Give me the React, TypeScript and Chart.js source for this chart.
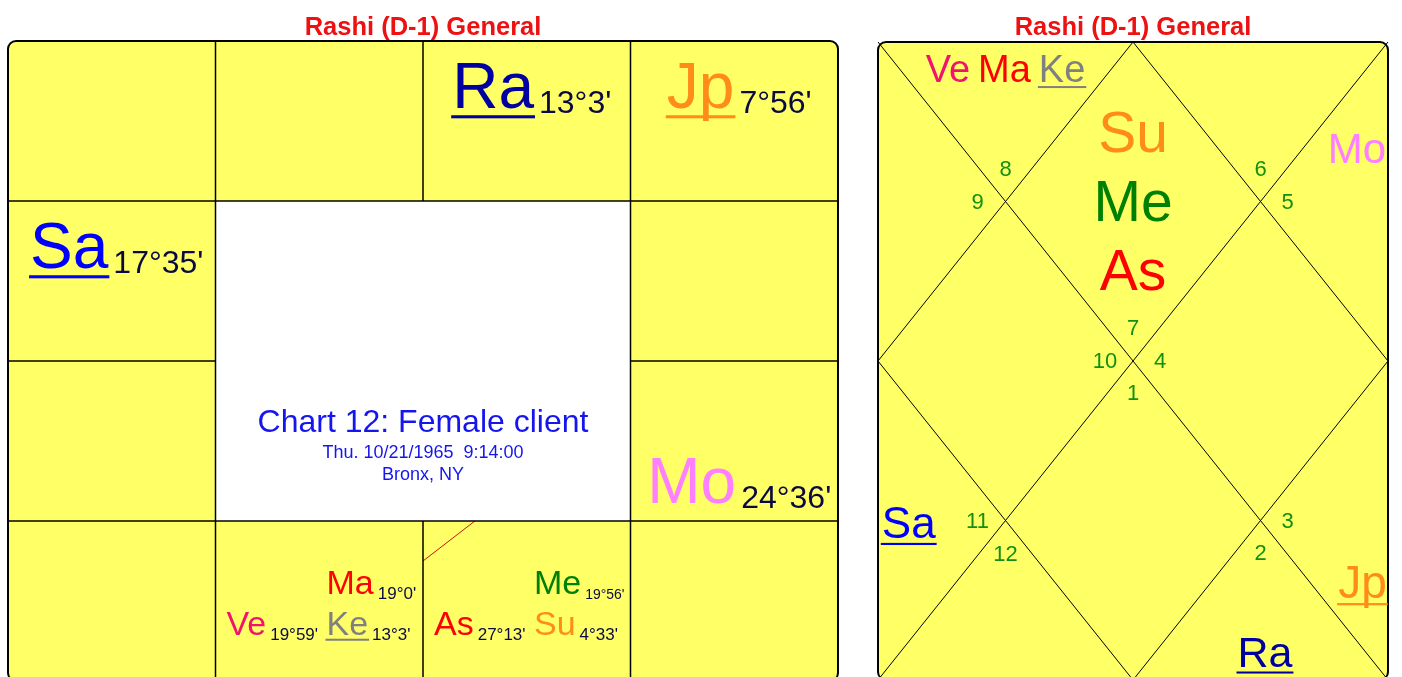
import React, { useEffect, useRef } from "react";
import { Chart, registerables } from "chart.js";

Chart.register(...registerables);

// ---------- data ----------
const TITLE = "Rashi (D-1) General";
const CENTER_TITLE = "Chart 12: Female client";
const CENTER_DATE = "Thu. 10/21/1965  9:14:00";
const CENTER_PLACE = "Bronx, NY";

const PLANETS = ["Su", "Me", "As", "Ve", "Ma", "Ke", "Mo", "Sa", "Jp", "Ra"];
const PLANET_SIGNS = [7, 7, 7, 8, 8, 8, 5, 11, 3, 2];
const PLANET_DEGREES = ["4°33'", "19°56'", "27°13'", "19°59'", "19°0'", "13°3'", "24°36'", "17°35'", "7°56'", "13°3'"];
const PLANET_RETRO = [false, false, false, false, false, true, false, true, true, true];
const PLANET_COLORS = ["#ff8c1a", "#008000", "#ff0000", "#f0146e", "#ff0000", "#808080", "#ff80ff", "#0000ff", "#ff8c1a", "#0000a0"];
const ASC_SIGN = 7;
const SIGN_NUMBERS = [1, 2, 3, 4, 5, 6, 7, 8, 9, 10, 11, 12];

// ---------- styles / layout ----------
const FONT = '"Liberation Sans", Arial, Helvetica, sans-serif';
const YELLOW = "#ffff66";
const TITLE_COLOR = "#ee1111";
const CENTER_COLOR = "#1515ee";
const DEG_COLOR = "#0a0a40";
const NUM_COLOR = "#129012";
const GRID = 4;

// south chart: sign -> [col, row]
const SOUTH_CELLS: Record<number, [number, number]> = {
  12: [0, 0], 1: [1, 0], 2: [2, 0], 3: [3, 0], 4: [3, 1], 5: [3, 2],
  6: [3, 3], 7: [2, 3], 8: [1, 3], 9: [0, 3], 10: [0, 2], 11: [0, 1],
};
const SOUTH_SINGLE_BASELINE: Record<number, number> = { 5: 0.885 };
// slot for multi-planet cells: 0 = top row, 1 = bottom-left, 2 = bottom-right
const SOUTH_SLOTS = [2, 0, 1, 1, 0, 2, 0, 0, 0, 0];

// north chart: house number label anchor [crossX, crossY, dxPx, dyPx]
const NORTH_NUM_ANCHORS: [number, number, number, number][] = [
  [2, 2, 0, -33], [1, 1, 0, -33], [1, 1, -28, 0], [2, 2, -28, 0],
  [1, 3, -28, 0], [1, 3, 0, 33], [2, 2, 0, 32], [3, 3, 0, 32],
  [3, 3, 27, 0], [2, 2, 27, 0], [3, 1, 27, 0], [3, 1, 0, -33],
];
type NorthLay = { x: number; y: number; align: "left" | "center" | "right"; size: number; dir: "v" | "h"; step?: number };
const NORTH_TEXT: NorthLay[] = [
  { x: 2, y: 0.69, align: "center", size: 57, dir: "v", step: 69 },
  { x: 1, y: 0.25, align: "center", size: 38, dir: "h" },
  { x: 0.05, y: 1.1, align: "left", size: 42, dir: "v" },
  { x: 1, y: 2.1, align: "center", size: 42, dir: "v" },
  { x: 0.03, y: 3.11, align: "left", size: 44, dir: "v" },
  { x: 1, y: 3.9, align: "center", size: 42, dir: "h" },
  { x: 2, y: 3.0, align: "center", size: 57, dir: "v", step: 69 },
  { x: 3.035, y: 3.917, align: "center", size: 43, dir: "h" },
  { x: 3.99, y: 3.486, align: "right", size: 46, dir: "v" },
  { x: 3, y: 2.1, align: "center", size: 42, dir: "v" },
  { x: 3.985, y: 0.759, align: "right", size: 42, dir: "v" },
  { x: 3, y: 0.25, align: "center", size: 38, dir: "h" },
];

function font(size: number, bold = false) {
  return `${bold ? "bold " : ""}${size}px ${FONT}`;
}

function planetsInSign(sign: number) {
  const out: number[] = [];
  PLANET_SIGNS.forEach((s, i) => { if (s === sign) out.push(i); });
  return out;
}

function lineDataset(points: { x: number; y: number }[], color: string, width: number) {
  return {
    data: points,
    showLine: true,
    borderColor: color,
    borderWidth: width,
    pointRadius: 0,
    fill: false,
    tension: 0,
    clip: false as any,
  };
}

function drawName(ctx: CanvasRenderingContext2D, i: number, x: number, baseline: number, size: number) {
  ctx.font = font(size);
  ctx.textAlign = "left";
  ctx.textBaseline = "alphabetic";
  const w = ctx.measureText(PLANETS[i]).width;
  ctx.fillStyle = PLANET_COLORS[i];
  ctx.fillText(PLANETS[i], x, baseline);
  if (PLANET_RETRO[i]) {
    ctx.fillRect(x - 1, baseline + size * 0.11, w + 2, Math.max(2, size * 0.048));
  }
  return w;
}

function itemWidth(ctx: CanvasRenderingContext2D, i: number, nameSize: number, degSize: number, gap: number) {
  ctx.font = font(nameSize);
  const a = ctx.measureText(PLANETS[i]).width;
  ctx.font = font(degSize);
  const b = ctx.measureText(PLANET_DEGREES[i]).width;
  return a + gap + b;
}

// draws name + degree; the degree font shrinks so the item ends before maxRight
function drawItem(ctx: CanvasRenderingContext2D, i: number, x: number, baseline: number, nameSize: number, degSize: number, gap: number, degDy: number, maxRight = Infinity) {
  const w = drawName(ctx, i, x, baseline, nameSize);
  const start = x + w + gap;
  ctx.font = font(degSize);
  const dw = ctx.measureText(PLANET_DEGREES[i]).width;
  let size = degSize;
  if (start + dw > maxRight) size = Math.max(11, (degSize * (maxRight - start)) / dw);
  ctx.font = font(size);
  ctx.fillStyle = DEG_COLOR;
  ctx.textAlign = "left";
  ctx.fillText(PLANET_DEGREES[i], start, baseline + degDy);
}

const roundBox = (ctx: CanvasRenderingContext2D, a: any) => {
  ctx.beginPath();
  (ctx as any).roundRect(a.left, a.top, a.right - a.left, a.bottom - a.top, 8);
};

const southPlugin = {
  id: "southChart",
  beforeDatasetsDraw(chart: any) {
    const { ctx, chartArea: a, scales } = chart;
    const xs = scales.x, ys = scales.y;
    ctx.save();
    roundBox(ctx, a);
    ctx.clip();
    ctx.fillStyle = YELLOW;
    ctx.fillRect(a.left, a.top, a.right - a.left, a.bottom - a.top);
    ctx.fillStyle = "#ffffff";
    const l = xs.getPixelForValue(1), r = xs.getPixelForValue(GRID - 1);
    const t = ys.getPixelForValue(1), b = ys.getPixelForValue(GRID - 1);
    ctx.fillRect(l, t, r - l, b - t);
    ctx.restore();
  },
  afterDatasetsDraw(chart: any) {
    const { ctx, chartArea: a, scales } = chart;
    const xs = scales.x, ys = scales.y;
    ctx.save();
    ctx.lineWidth = 2;
    ctx.strokeStyle = "#000";
    roundBox(ctx, a);
    ctx.stroke();

    ctx.font = font(25.5, true);
    ctx.fillStyle = TITLE_COLOR;
    ctx.textAlign = "center";
    ctx.textBaseline = "alphabetic";
    ctx.fillText(TITLE, (a.left + a.right) / 2, a.top - 6);

    const cx = xs.getPixelForValue(GRID / 2), cy = ys.getPixelForValue(GRID / 2);
    ctx.fillStyle = CENTER_COLOR;
    ctx.font = font(32);
    ctx.fillText(CENTER_TITLE, cx, cy + 71);
    ctx.font = font(18);
    ctx.fillText(CENTER_DATE, cx, cy + 97);
    ctx.fillText(CENTER_PLACE, cx, cy + 119);

    SIGN_NUMBERS.forEach((sign) => {
      const idx = planetsInSign(sign);
      if (!idx.length) return;
      const [c, r] = SOUTH_CELLS[sign];
      const L = xs.getPixelForValue(c), R = xs.getPixelForValue(c + 1);
      const T = ys.getPixelForValue(r), B = ys.getPixelForValue(r + 1);
      if (idx.length === 1) {
        const i = idx[0];
        const w = itemWidth(ctx, i, 64, 32, 5);
        const frac = SOUTH_SINGLE_BASELINE[sign] ?? 0.42;
        drawItem(ctx, i, L + (R - L - w) / 2 + 5, T + (B - T) * frac, 64, 32, 5, 5);
      } else {
        const rightCol = L + 111;
        idx.forEach((i) => {
          const slot = SOUTH_SLOTS[i];
          const x = slot === 1 ? L + 11 : rightCol;
          const y = slot === 0 ? T + 73 : T + 114;
          const maxRight = slot === 1 ? rightCol - 6 : R - 6;
          drawItem(ctx, i, x, y, 34, 17, 4, 5, maxRight);
        });
      }
    });
    ctx.restore();
  },
};

const northPlugin = {
  id: "northChart",
  beforeDatasetsDraw(chart: any) {
    const { ctx, chartArea: a } = chart;
    ctx.save();
    roundBox(ctx, a);
    ctx.fillStyle = YELLOW;
    ctx.fill();
    ctx.restore();
  },
  afterDatasetsDraw(chart: any) {
    const { ctx, chartArea: a, scales } = chart;
    const xs = scales.x, ys = scales.y;
    ctx.save();
    ctx.lineWidth = 2;
    ctx.strokeStyle = "#000";
    roundBox(ctx, a);
    ctx.stroke();

    ctx.font = font(25.5, true);
    ctx.fillStyle = TITLE_COLOR;
    ctx.textAlign = "center";
    ctx.textBaseline = "alphabetic";
    ctx.fillText(TITLE, (a.left + a.right) / 2, a.top - 7);

    for (let h = 1; h <= 12; h++) {
      const sign = ((ASC_SIGN - 1 + h - 1) % 12) + 1;
      const [ux, uy, dx, dy] = NORTH_NUM_ANCHORS[h - 1];
      ctx.font = font(22);
      ctx.fillStyle = NUM_COLOR;
      ctx.textAlign = "center";
      ctx.textBaseline = "middle";
      ctx.fillText(String(SIGN_NUMBERS[sign - 1]), xs.getPixelForValue(ux) + dx, ys.getPixelForValue(uy) + dy + 1);

      const idx = planetsInSign(sign);
      if (!idx.length) continue;
      const lay = NORTH_TEXT[h - 1];
      const px = xs.getPixelForValue(lay.x), py = ys.getPixelForValue(lay.y);
      ctx.font = font(lay.size);
      const widths = idx.map((i) => ctx.measureText(PLANETS[i]).width);
      if (lay.dir === "v") {
        const step = lay.step ?? lay.size * 1.15;
        idx.forEach((i, k) => {
          const w = widths[k];
          const x0 = lay.align === "left" ? px : lay.align === "right" ? px - w : px - w / 2;
          drawName(ctx, i, x0, py + k * step, lay.size);
        });
      } else {
        const gap = 8;
        const total = widths.reduce((s, w) => s + w, 0) + gap * (idx.length - 1);
        let x = lay.align === "left" ? px : lay.align === "right" ? px - total : px - total / 2;
        idx.forEach((i, k) => {
          drawName(ctx, i, x, py, lay.size);
          x += widths[k] + gap;
        });
      }
    }
    ctx.restore();
  },
};

function baseOptions(padding: any) {
  return {
    responsive: false,
    animation: false as const,
    events: [] as any[],
    layout: { padding },
    plugins: { legend: { display: false }, tooltip: { enabled: false }, title: { display: false } },
    scales: {
      x: { type: "linear" as const, min: 0, max: GRID, display: false },
      y: { type: "linear" as const, min: 0, max: GRID, reverse: true, display: false },
    },
  };
}

function southDatasets() {
  const ds: any[] = [];
  for (let k = 1; k < GRID; k++) {
    const full = k !== GRID / 2;
    if (full) {
      ds.push(lineDataset([{ x: k, y: 0 }, { x: k, y: GRID }], "#000", 1.5));
      ds.push(lineDataset([{ x: 0, y: k }, { x: GRID, y: k }], "#000", 1.5));
    } else {
      ds.push(lineDataset([{ x: k, y: 0 }, { x: k, y: 1 }], "#000", 1.5));
      ds.push(lineDataset([{ x: k, y: GRID - 1 }, { x: k, y: GRID }], "#000", 1.5));
      ds.push(lineDataset([{ x: 0, y: k }, { x: 1, y: k }], "#000", 1.5));
      ds.push(lineDataset([{ x: GRID - 1, y: k }, { x: GRID, y: k }], "#000", 1.5));
    }
  }
  const [ac, ar] = SOUTH_CELLS[ASC_SIGN];
  ds.push(lineDataset([{ x: ac, y: ar + 0.25 }, { x: ac + 0.25, y: ar }], "#cc1111", 1));
  return ds;
}

function northDatasets() {
  return [
    lineDataset([{ x: 0, y: 0 }, { x: GRID, y: GRID }], "#000", 1),
    lineDataset([{ x: GRID, y: 0 }, { x: 0, y: GRID }], "#000", 1),
    lineDataset([
      { x: GRID / 2, y: 0 }, { x: GRID, y: GRID / 2 }, { x: GRID / 2, y: GRID },
      { x: 0, y: GRID / 2 }, { x: GRID / 2, y: 0 },
    ], "#000", 1),
  ];
}

export default function App() {
  const southRef = useRef<HTMLCanvasElement>(null);
  const northRef = useRef<HTMLCanvasElement>(null);

  useEffect(() => {
    const s = new Chart(southRef.current as HTMLCanvasElement, {
      type: "scatter",
      data: { datasets: southDatasets() },
      options: baseOptions({ left: 8, top: 41, right: 22, bottom: 19 }) as any,
      plugins: [southPlugin],
    });
    const n = new Chart(northRef.current as HTMLCanvasElement, {
      type: "scatter",
      data: { datasets: northDatasets() },
      options: baseOptions({ left: 18, top: 42, right: 14, bottom: 20 }) as any,
      plugins: [northPlugin],
    });
    return () => {
      s.destroy();
      n.destroy();
    };
  }, []);

  return (
    <div style={{ position: "fixed", left: 0, top: 0, width: 1402, height: 677, overflow: "hidden", background: "#ffffff" }}>
      <canvas ref={southRef} width={860} height={700} style={{ position: "absolute", left: 0, top: 0, width: 860, height: 700 }} />
      <canvas ref={northRef} width={542} height={700} style={{ position: "absolute", left: 860, top: 0, width: 542, height: 700 }} />
    </div>
  );
}
